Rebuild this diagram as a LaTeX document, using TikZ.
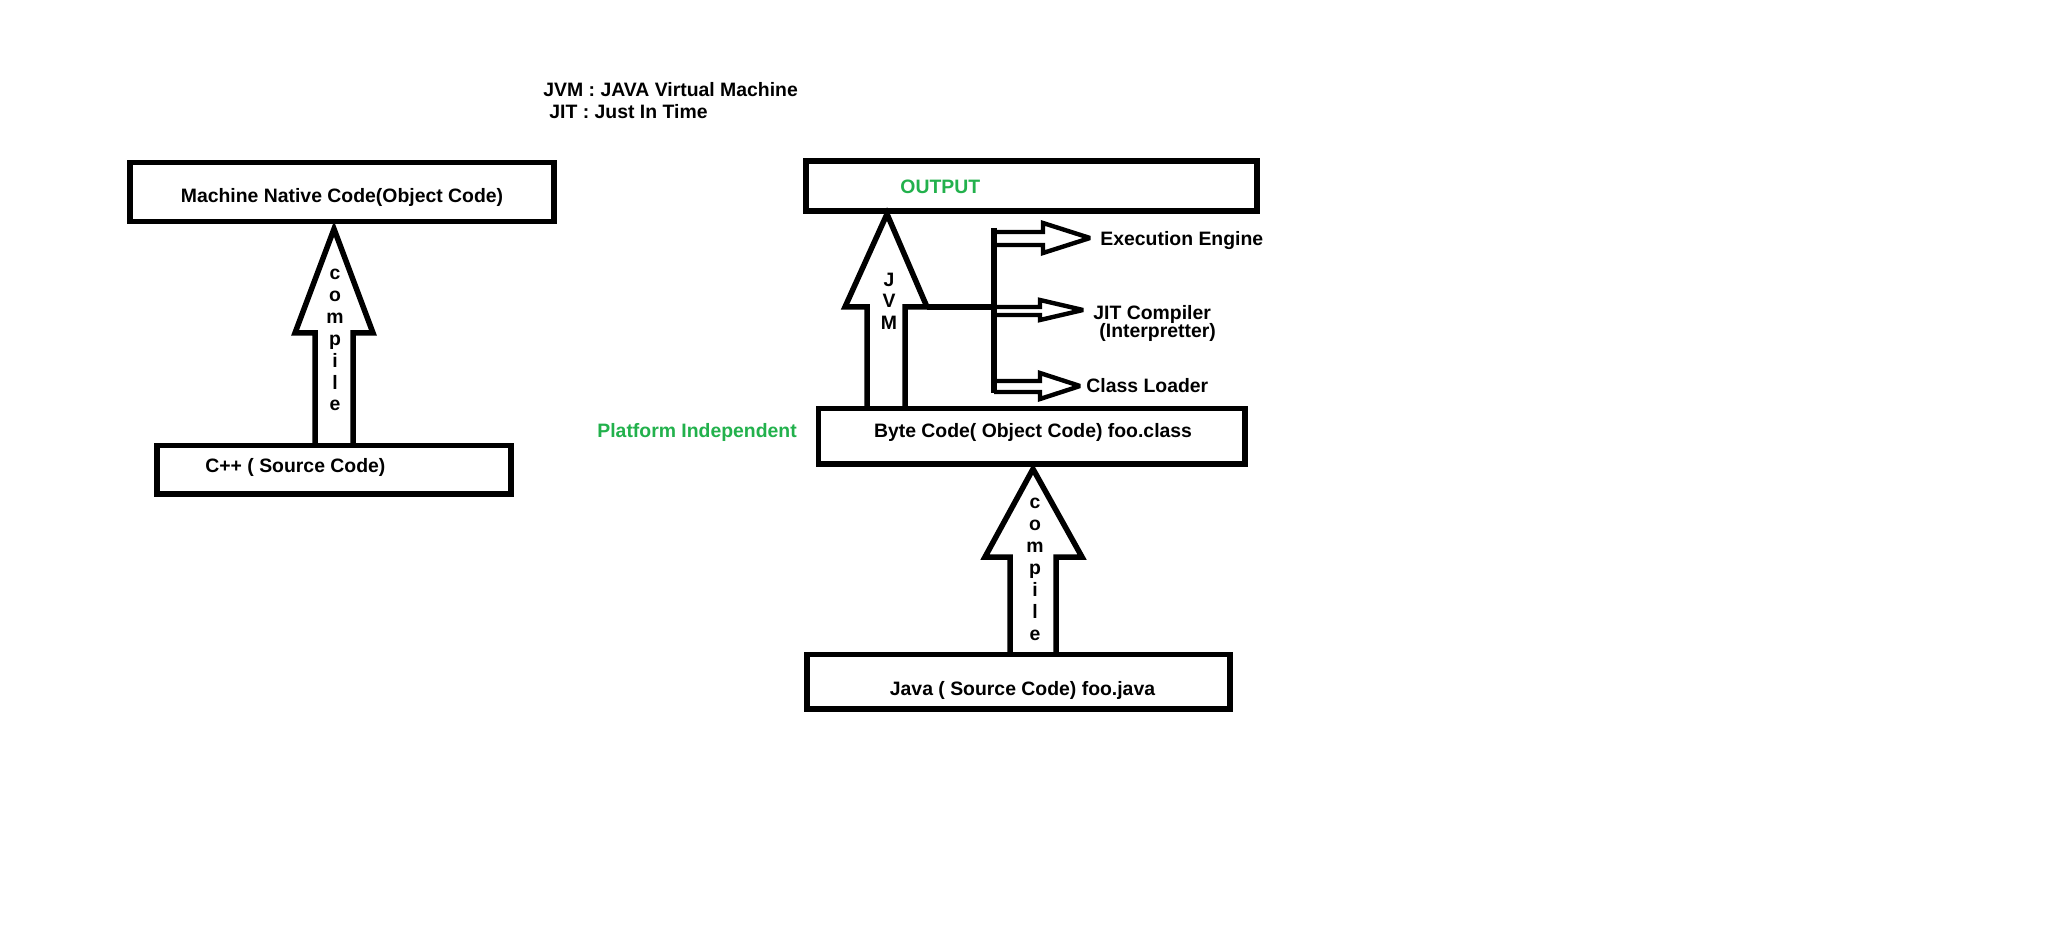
\documentclass[tikz,border=0pt]{standalone}
\usepackage{fontspec}
\setmainfont{Liberation Sans}
\definecolor{paintgreen}{RGB}{34,177,76}
\begin{document}
\begin{tikzpicture}[x=0.5pt,y=-0.5pt,
  box/.style={draw=black, line width=2.75pt, inner sep=0pt, outer sep=0pt},
  txt/.style={font=\bfseries\fontsize{9.7}{11}\selectfont, inner sep=0pt, text=black},
  lblw/.style={txt, anchor=base west},
  lblc/.style={txt, anchor=base},
  green/.style={text=paintgreen},
  blk/.style={draw=black, line width=2.75pt, line join=miter, miter limit=3},
  smallblk/.style={draw=black, line width=2.2pt, line join=miter, miter limit=3},
  bus/.style={draw=black, line width=2.6pt}]
\useasboundingbox (0,0) rectangle (2048,930);
\fill[white] (0,0) rectangle (2048,930);

% legend
\node[lblw] (legjvm) at (543,97) {JVM : JAVA Virtual Machine};
\node[lblw] (legjit) at (549,119) {JIT : Just In Time};

% left column
\node[box, minimum width=212pt, minimum height=29.5pt] (machine) at (342,192) {};
\node[lblc] (machinet) at (342,203) {Machine Native Code(Object Code)};
\node[box, minimum width=177pt, minimum height=24.25pt] (cpp) at (334,469.75) {};
\node[lblw] (cppt) at (205,472) {C++ ( Source Code)};
\draw[blk] (315,443) -- (315,333) -- (295,333) -- (334,229) -- (373,333) -- (353,333) -- (353,443);
\foreach \ch [count=\i from 0] in {c,o,m,p,i,l,e}
  \node[lblc] (lc\i) at (335,{280+21.8*\i}) {\ch};

% right column
\node[box, minimum width=225.5pt, minimum height=25pt] (output) at (1031.5,186) {};
\node[lblw, green] (outputt) at (900,194) {OUTPUT};
\node[box, minimum width=213.25pt, minimum height=27.75pt] (byte) at (1031.75,436.25) {};
\node[lblc] (bytet) at (1033,437) {Byte Code( Object Code) foo.class};
\node[box, minimum width=211.5pt, minimum height=27.25pt] (java) at (1018.5,681.75) {};
\node[lblc] (javat) at (1022.5,695) {Java ( Source Code) foo.java};
\node[lblw, green] (platform) at (597,437) {Platform Independent};

% JVM arrow
\draw[blk] (867,406) -- (867,307) -- (845,307) -- (887,214) -- (927,307) -- (905,307) -- (905,406);
\foreach \ch [count=\i from 0] in {J,V,M}
  \node[lblc] (jv\i) at (889,{287+21*\i}) {\ch};

% compile arrow (java -> byte)
\draw[blk] (1010,652) -- (1010,557) -- (985,557) -- (1033,469) -- (1082,557) -- (1056,557) -- (1056,652);
\foreach \ch [count=\i from 0] in {c,o,m,p,i,l,e}
  \node[lblc] (rc\i) at (1035,{508+22*\i}) {\ch};

% bus
\coordinate (busL) at (927,307);
\coordinate (busJ) at (994,307);
\coordinate (busT) at (994,228);
\coordinate (busB) at (994,393);
\draw[bus] (busL) -- (busJ);
\draw[bus] (busT) -- (busB);

% small block arrows
\draw[smallblk] (994,232) -- (1043,232) -- (1043,223) -- (1090,238) -- (1043,253) -- (1043,245) -- (994,245);
\draw[smallblk] (994,307) -- (1040,307) -- (1040,300) -- (1083,310) -- (1040,320) -- (1040,315) -- (994,315);
\draw[smallblk] (994,381) -- (1040,381) -- (1040,373) -- (1080,386) -- (1040,399) -- (1040,392) -- (994,392);

\node[lblw] (exect) at (1100,246) {Execution Engine};
\node[lblw] (jitt) at (1093,320) {JIT Compiler};
\node[lblw] (interp) at (1099,337) {(Interpretter)};
\node[lblw] (classt) at (1086,392) {Class Loader};
\end{tikzpicture}
\end{document}
